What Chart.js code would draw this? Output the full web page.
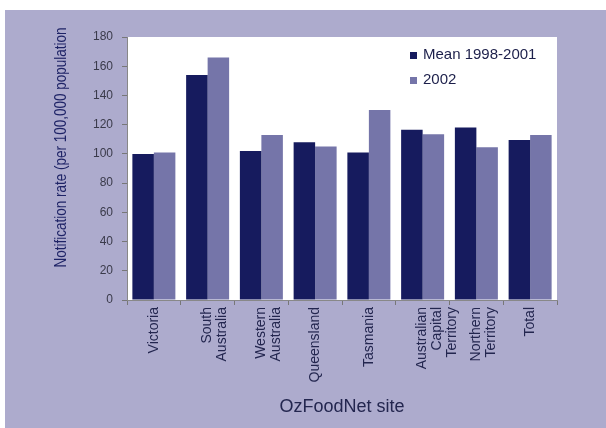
<!DOCTYPE html>
<html>
<head>
<meta charset="utf-8">
<script src="https://cdn.jsdelivr.net/npm/chart.js@4/dist/chart.umd.min.js"></script>
<style>
  html, body { margin: 0; padding: 0; background: #ffffff; }
  #wrap { width: 606px; height: 428px; }
</style>
</head>
<body>
<div id="wrap"><canvas id="chart-oz" width="606" height="428"></canvas></div>
<script>
const sites = [
  "Victoria",
  ["South", "Australia"],
  ["Western", "Australia"],
  "Queensland",
  "Tasmania",
  ["Australian", "Capital", "Territory"],
  ["Northern", "Territory"],
  "Total",
];
const mean9801 = [100, 154, 102, 108, 101, 116.5, 118, 109.5];
const rate2002 = [101, 166, 113, 105, 130, 113.5, 104.5, 113];
const seriesNames = ["Mean 1998-2001", "2002"];
const seriesColors = ["#161b5e", "#7575a9"];
const yTitle = "Notification rate (per 100,000 population";

const FONT = "'Liberation Sans', Arial, sans-serif";

// lavender panel + white plot area
const panelBg = {
  id: "panelBg",
  beforeDraw(chart) {
    const c = chart.ctx;
    const a = chart.chartArea;
    c.save();
    c.fillStyle = "#ffffff";
    c.fillRect(0, 0, chart.width, chart.height);
    c.fillStyle = "#adabcd";
    c.fillRect(5, 10, chart.width - 5, chart.height - 10);
    c.fillStyle = "#ffffff";
    c.fillRect(a.left, a.top, a.right - a.left, a.bottom - a.top);
    c.restore();
  },
};

// legend inside the plot (top right) and the y title
const extras = {
  id: "extras",
  afterDraw(chart) {
    const c = chart.ctx;
    const a = chart.chartArea;
    c.save();
    c.font = "15px " + FONT;
    c.textBaseline = "middle";
    seriesNames.forEach((name, i) => {
      const y = a.top + 18 + i * 25;
      c.fillStyle = seriesColors[i];
      c.fillRect(a.right - 147, y - 3, 7, 7);
      c.fillStyle = "#1c1f4a";
      c.fillText(name, a.right - 134, y);
    });

    c.translate(62, (a.top + a.bottom) / 2 - 21);
    c.rotate(-Math.PI / 2);
    c.scale(1, 1.2); // source picture is a bit stretched sideways
    c.font = "13.5px " + FONT;
    c.textAlign = "center";
    c.fillStyle = "#1e2366";
    c.fillText(yTitle, 0, 0);
    c.restore();
  },
};

const ctx = document.getElementById("chart-oz");
new Chart(ctx, {
  type: "bar",
  data: {
    labels: sites,
    datasets: seriesNames.map((name, i) => ({
      label: name,
      data: i === 0 ? mean9801 : rate2002,
      backgroundColor: seriesColors[i],
      borderWidth: 0,
      categoryPercentage: 0.8,
      barPercentage: 1.0,
    })),
  },
  options: {
    responsive: false,
    animation: false,
    layout: { padding: { left: 0, top: 37, right: 49, bottom: 0 } },
    plugins: {
      legend: { display: false },
      tooltip: { enabled: false },
    },
    scales: {
      x: {
        grid: { offset: true, drawOnChartArea: false, tickLength: 5, color: "#777" },
        border: { color: "#888" },
        ticks: {
          maxRotation: 90,
          minRotation: 90,
          padding: 2,
          color: "#23264f",
          font: { family: FONT, size: 14, lineHeight: 1.05 },
        },
        title: {
          display: true,
          text: "OzFoodNet site",
          color: "#23264f",
          padding: { top: 0, bottom: 10 },
          font: { family: FONT, size: 18 },
        },
        afterFit(scale) { scale.height = 128; },
      },
      y: {
        min: 0,
        max: 180,
        ticks: {
          stepSize: 20,
          padding: 9,
          color: "#3a3a4a",
          font: { family: FONT, size: 12 },
        },
        grid: { drawOnChartArea: false, tickLength: 5, color: "#777" },
        border: { color: "#888" },
        afterFit(scale) { scale.width = 127; },
      },
    },
  },
  plugins: [panelBg, extras],
});
</script>
</body>
</html>
